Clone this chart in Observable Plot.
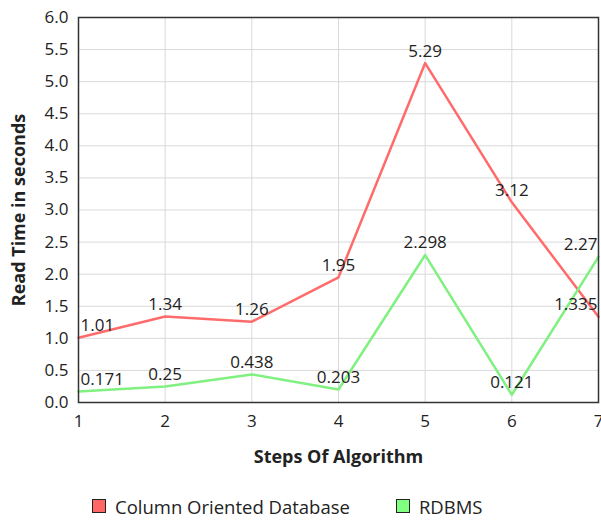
<!DOCTYPE html>
<html><head><meta charset="utf-8">
<script src="https://cdn.jsdelivr.net/npm/d3@7"></script>
<script src="https://cdn.jsdelivr.net/npm/@observablehq/plot@0.6"></script>
<style>
body{margin:0;background:#fff;font-family:"Open Sans",sans-serif;}
#legend{display:flex;align-items:center;height:72px;padding-left:92px;font-size:18.5px;color:#222;}
.item{display:flex;align-items:center;margin-right:46px;}
.sw{width:12px;height:12px;border:1px solid #222;margin-right:9px;}
</style></head><body>
<div id="chart"></div>
<div id="legend"></div>
<script>
const steps = [1,2,3,4,5,6,7];
const columnDB = [1.01,1.34,1.26,1.95,5.29,3.12,1.335];
const rdbms = [0.171,0.25,0.438,0.203,2.298,0.121,2.27];
const seriesNames = ["Column Oriented Database","RDBMS"];
const colors = ["#ff6b6b","#80f080"];
const legendColors = ["#ff6666","#80ff80"];
const yTicks = [0,0.5,1,1.5,2,2.5,3,3.5,4,4.5,5,5.5,6];

const data = [];
steps.forEach((s,i)=>{
  data.push({step:s, value:columnDB[i], series:seriesNames[0], label:String(columnDB[i])});
  data.push({step:s, value:rdbms[i], series:seriesNames[1], label:String(rdbms[i])});
});
const txt = {y:"value", text:"label", dy:-12, fontSize:17, fill:"#222", fontFamily:"Open Sans"};
const chart = Plot.plot({
  width:601, height:470,
  marginTop:17, marginBottom:68, marginLeft:78, marginRight:3,
  style:{fontFamily:"Open Sans", fontSize:"17px", color:"#222", background:"#fff"},
  x:{domain:[1,7], ticks:steps, tickFormat:d=>String(d), tickSize:0, tickPadding:12, label:"Steps Of Algorithm", labelAnchor:"center", labelArrow:"none", labelOffset:60},
  y:{domain:[0,6], ticks:yTicks, tickFormat:d=>d.toFixed(1), tickSize:0, tickPadding:10, label:"Read Time in seconds", labelAnchor:"center", labelArrow:"none", labelOffset:66},
  color:{domain:seriesNames, range:colors},
  marks:[
    Plot.ruleY(yTicks, {stroke:"#d9d9d9"}),
    Plot.ruleX(steps, {stroke:"#d9d9d9"}),
    Plot.line(data, {x:"step", y:"value", z:"series", stroke:"series", strokeWidth:2.5}),
    Plot.text(data.filter(d=>d.step===1), {...txt, x:"step", textAnchor:"start", dx:2}),
    Plot.text(data.filter(d=>d.step>1&&d.step<7), {...txt, x:"step", textAnchor:"middle"}),
    Plot.text(data.filter(d=>d.step===7), {...txt, x:"step", textAnchor:"end", dx:-1}),
    Plot.frame({stroke:"#333", strokeWidth:1.5})
  ]
});
chart.querySelectorAll('g[aria-label="x-axis label"] text, g[aria-label="y-axis label"] text').forEach(t=>{t.setAttribute("font-weight","bold");t.style.fontSize="18px";});
document.getElementById("chart").appendChild(chart);
const lg = document.getElementById("legend");
seriesNames.forEach((n,i)=>{
  const it=document.createElement("div");it.className="item";
  const sw=document.createElement("div");sw.className="sw";sw.style.background=legendColors[i];
  const sp=document.createElement("span");sp.textContent=n;
  it.appendChild(sw);it.appendChild(sp);lg.appendChild(it);
});
</script></body></html>
